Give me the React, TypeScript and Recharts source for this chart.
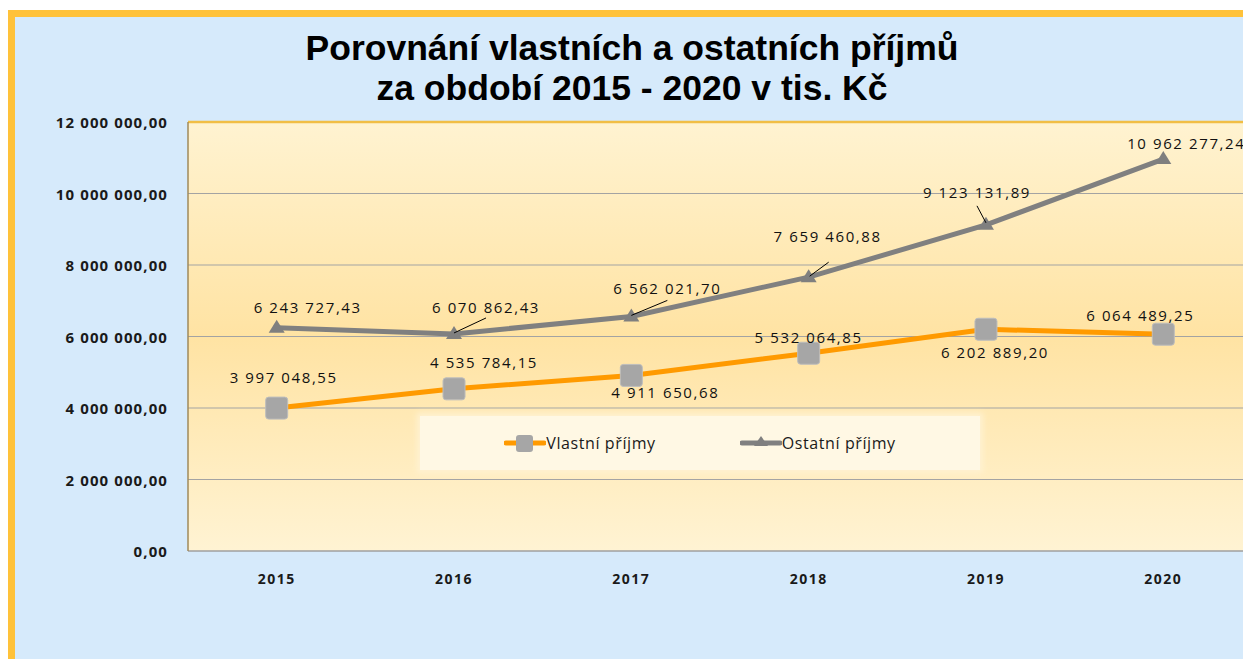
import { LineChart, Line, XAxis, YAxis, CartesianGrid, Legend, LabelList, ReferenceLine } from "recharts"

const years = ["2015", "2016", "2017", "2018", "2019", "2020"]
const vlastniPrijmy = [3997048.55, 4535784.15, 4911650.68, 5532064.85, 6202889.2, 6064489.25]
const ostatniPrijmy = [6243727.43, 6070862.43, 6562021.7, 7659460.88, 9123131.89, 10962277.24]
const yTicks = [0, 2000000, 4000000, 6000000, 8000000, 10000000, 12000000]

const data = years.map((year, i) => ({ year, vlastni: vlastniPrijmy[i], ostatni: ostatniPrijmy[i] }))

// where each data label sits relative to its point, plus optional leader line
const vlastniLabelPos = [
  { dx: 7, dy: -31 },
  { dx: 30, dy: -27 },
  { dx: 34, dy: 17 },
  { dx: 0, dy: -16 },
  { dx: 9, dy: 23 },
  { dx: -23, dy: -19 },
]
const ostatniLabelPos = [
  { dx: 31, dy: -21 },
  { dx: 32, dy: -27, leader: [32, -16, 0, -1] },
  { dx: 36, dy: -28, leader: [36, -16, 0, -1] },
  { dx: 19, dy: -41, leader: [20, -15, 1, -1] },
  { dx: -9, dy: -33, leader: [-9, -19, 0, -2] },
  { dx: 23, dy: -16 },
]

const FONT = "'Open Sans', 'Noto Sans', sans-serif"
const ORANGE = "#FF9A00"
const GRAY = "#808080"

const czk = (v: number) => {
  const [int, dec] = v.toFixed(2).split(".")
  return int.replace(/\B(?=(\d{3})+(?!\d))/g, " ") + "," + dec
}

const makeLabel = (pos: any[]) => (props: any) => {
  const { x, y, value, index } = props
  const p = pos[index]
  if (!p) return null
  return (
    <g>
      {p.leader && (
        <line
          x1={x + p.leader[0]}
          y1={y + p.leader[1]}
          x2={x + p.leader[2]}
          y2={y + p.leader[3]}
          stroke="#000"
          strokeWidth={1}
        />
      )}
      <text
        x={x + p.dx}
        y={y + p.dy}
        textAnchor="middle"
        dominantBaseline="central"
        fill="#111"
        style={{ fontFamily: FONT, fontSize: 15, letterSpacing: 1.6 }}
      >
        {czk(Number(value))}
      </text>
    </g>
  )
}

const SquareDot = (props: any) => {
  const { cx, cy, index } = props
  return <rect key={`sq-${index}`} x={cx - 11} y={cy - 11} width={22} height={22} rx={3} fill="#A6A6A6" stroke="#BDBDBD" />
}

const TriangleDot = (props: any) => {
  const { cx, cy, index } = props
  return <polygon key={`tr-${index}`} points={`${cx},${cy - 8} ${cx + 8},${cy + 5} ${cx - 8},${cy + 5}`} fill="#7F7F7F" />
}

const YTick = ({ x, y, payload }: any) => (
  <text x={x} y={y} textAnchor="end" dominantBaseline="central" fill="#1a1a1a"
    style={{ fontFamily: FONT, fontSize: 15, fontWeight: 700, letterSpacing: 1.1 }}>
    {czk(payload.value)}
  </text>
)

const XTick = ({ x, y, payload }: any) => (
  <text x={x} y={y} textAnchor="middle" dominantBaseline="central" fill="#1a1a1a"
    style={{ fontFamily: FONT, fontSize: 14, fontWeight: 700, letterSpacing: 1.5 }}>
    {payload.value}
  </text>
)

const renderLegend = () => (
  <div
    style={{
      display: "flex",
      justifyContent: "center",
      alignItems: "center",
      height: "100%",
      gap: 84,
      background: "#FFF8E4",
      boxShadow: "0 0 6px 3px #FFF2D2",
      fontFamily: FONT,
      fontSize: 16,
      color: "#1a1a1a",
      letterSpacing: 0.6,
    }}
  >
    <span style={{ display: "flex", alignItems: "center" }}>
      <svg width={42} height={22}>
        <line x1={2} y1={11} x2={40} y2={11} stroke={ORANGE} strokeWidth={5} strokeLinecap="round" />
        <rect x={12} y={3} width={17} height={17} rx={3} fill="#A6A6A6" />
      </svg>
      <span>Vlastní příjmy</span>
    </span>
    <span style={{ display: "flex", alignItems: "center" }}>
      <svg width={42} height={22}>
        <line x1={2} y1={11} x2={40} y2={11} stroke={GRAY} strokeWidth={5} strokeLinecap="round" />
        <polygon points="21,4 28,14 14,14" fill="#7F7F7F" />
      </svg>
      <span>Ostatní příjmy</span>
    </span>
  </div>
)

export default function App() {
  return (
    <div style={{ position: "fixed", left: 0, top: 0, width: 1243, height: 659, overflow: "hidden", background: "#fff" }}>
      <div
        style={{
          position: "absolute",
          left: 8,
          top: 10,
          width: 1300,
          height: 700,
          boxSizing: "border-box",
          background: "#D6EAFB",
          borderLeft: "7px solid #FFC23A",
          borderTop: "7px solid #FFC23A",
        }}
      />
      <div
        style={{
          position: "absolute",
          left: 0,
          top: 28,
          width: 1264,
          textAlign: "center",
          fontFamily: "'Liberation Sans', Arial, sans-serif",
          fontWeight: 700,
          fontSize: 35.5,
          lineHeight: "40px",
          color: "#000",
        }}
      >
        Porovnání vlastních a ostatních příjmů
        <br />
        za období 2015 - 2020 v tis. Kč
      </div>
      <div style={{ position: "absolute", left: 0, top: 0 }}>
        <LineChart width={1300} height={659} data={data} margin={{ top: 122, right: 48, bottom: 68, left: 88 }}>
          <defs>
            <linearGradient id="plotFill" x1="0" y1="0" x2="0" y2="1">
              <stop offset="0%" stopColor="#FFF3D1" />
              <stop offset="50%" stopColor="#FFE3A3" />
              <stop offset="100%" stopColor="#FFF3D3" />
            </linearGradient>
          </defs>
          <CartesianGrid vertical={false} stroke="#A3A3A3" strokeWidth={1.2} fill="url(#plotFill)" fillOpacity={1} />
          <ReferenceLine y={12000000} stroke="#F1BE45" strokeWidth={2.5} />
          <XAxis
            dataKey="year"
            height={40}
            padding={{ left: 88.7, right: 88.7 }}
            tickLine={false}
            tickSize={0}
            tickMargin={27}
            axisLine={{ stroke: "#9E9E9E" }}
            tick={<XTick />}
          />
          <YAxis
            width={100}
            domain={[0, 12000000]}
            ticks={yTicks}
            interval={0}
            tickLine={false}
            tickSize={0}
            tickMargin={20}
            axisLine={{ stroke: "#A08A5A", strokeWidth: 1.5 }}
            tick={<YTick />}
          />
          <Legend
            verticalAlign="middle"
            align="center"
            content={renderLegend}
            wrapperStyle={{ left: 420, top: 416, width: 560, height: 54 }}
          />
          <Line
            type="linear"
            dataKey="ostatni"
            name="Ostatní příjmy"
            stroke={GRAY}
            strokeWidth={5}
            dot={TriangleDot}
            activeDot={false}
            isAnimationActive={false}
          >
            <LabelList dataKey="ostatni" content={makeLabel(ostatniLabelPos)} />
          </Line>
          <Line
            type="linear"
            dataKey="vlastni"
            name="Vlastní příjmy"
            stroke={ORANGE}
            strokeWidth={5}
            dot={SquareDot}
            activeDot={false}
            isAnimationActive={false}
          >
            <LabelList dataKey="vlastni" content={makeLabel(vlastniLabelPos)} />
          </Line>
        </LineChart>
      </div>
    </div>
  )
}
